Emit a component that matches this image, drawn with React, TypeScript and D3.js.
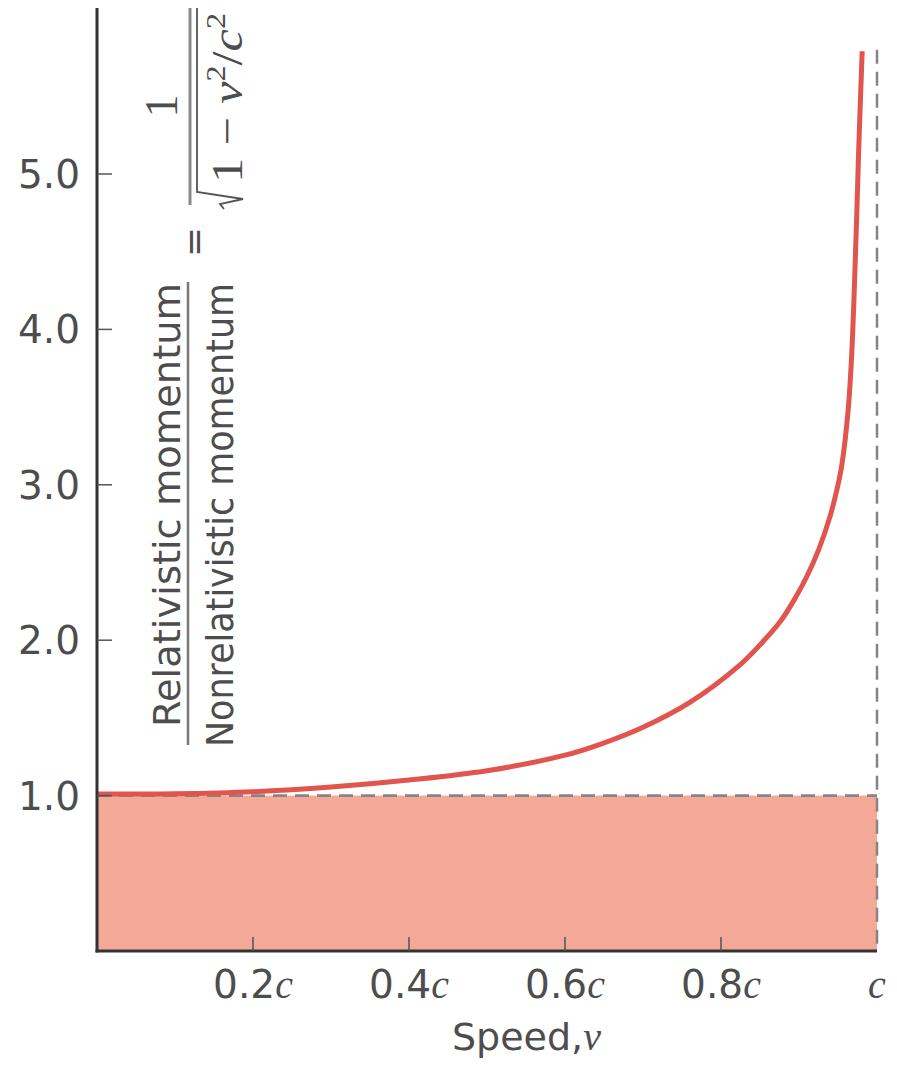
import React from "react";
import * as d3 from "d3";

const speeds = [0, 0.1, 0.2, 0.3, 0.4, 0.5, 0.6, 0.645, 0.7, 0.76, 0.824, 0.85, 0.876, 0.895, 0.91, 0.925, 0.94, 0.95, 0.955, 0.963, 0.967, 0.9705, 0.9735, 0.9765, 0.981];
const ratios = [1.01, 1.012, 1.025, 1.055, 1.1, 1.16, 1.26, 1.33, 1.44, 1.6, 1.84, 1.97, 2.12, 2.27, 2.41, 2.58, 2.8, 3.0, 3.13, 3.48, 3.78, 4.2, 4.65, 5.15, 5.79];
const yTicks = [1, 2, 3, 4, 5];
const yTickLabels = ["1.0", "2.0", "3.0", "4.0", "5.0"];
const xTicks = [0.2, 0.4, 0.6, 0.8, 1.0];
const xTickLabels = ["0.2", "0.4", "0.6", "0.8", ""];
const baseline = 1;

const SANS = "'DejaVu Sans', sans-serif";
const SERIF = "'Liberation Serif', 'DejaVu Serif', serif";
const TEXT = "#4d4d4d";

export default function App() {
  const x = d3.scaleLinear().domain([0, 1]).range([97, 877]);
  const y = d3.scaleLinear().domain([0, 5]).range([951, 951 - 5 * 155.4]);
  const pts = speeds.map((s, i) => [s, ratios[i]] as [number, number]);
  const line = d3
    .line<[number, number]>()
    .x((d) => x(d[0]))
    .y((d) => y(d[1]))
    .curve(d3.curveCatmullRom.alpha(0.5));

  return (
    <svg
      width={897}
      height={1065}
      style={{ position: "absolute", left: 0, top: 0, background: "#fff" }}
    >
      {/* filled region below 1.0 */}
      <rect
        x={x(0)}
        y={y(baseline)}
        width={x(1) - x(0)}
        height={y(0) - y(baseline)}
        fill="#f4a897"
      />
      {/* dashed reference lines */}
      <line
        x1={x(0)}
        x2={x(1)}
        y1={y(baseline)}
        y2={y(baseline)}
        stroke="#858585"
        strokeWidth={2.8}
        strokeDasharray="14 8"
      />
      <line
        x1={x(1)}
        x2={x(1)}
        y1={y(5.8)}
        y2={y(0)}
        stroke="#858585"
        strokeWidth={2.5}
        strokeDasharray="14 8"
      />
      {/* curve */}
      <path d={line(pts) || ""} fill="none" stroke="#e2544e" strokeWidth={5} />

      {/* axes */}
      <line x1={x(0)} x2={x(0)} y1={8} y2={y(0) + 1.5} stroke="#333" strokeWidth={3} />
      <line x1={x(0) - 1.5} x2={x(1)} y1={y(0)} y2={y(0)} stroke="#333" strokeWidth={3} />

      {yTicks.map((t, i) => (
        <g key={"y" + t}>
          <line x1={x(0)} x2={x(0) + 15} y1={y(t)} y2={y(t)} stroke="#555" strokeWidth={1.5} />
          <text
            x={80}
            y={y(t) + 14}
            textAnchor="end"
            fontFamily={SANS}
            fontSize={39}
            fill={TEXT}
          >
            {yTickLabels[i]}
          </text>
        </g>
      ))}

      {xTicks.map((t, i) => (
        <g key={"x" + t}>
          {t < 1 && (
            <line x1={x(t)} x2={x(t)} y1={y(0)} y2={y(0) - 14} stroke="#555" strokeWidth={1.5} />
          )}
          <text x={x(t)} y={998} textAnchor="middle" fill={TEXT} fontSize={39}>
            <tspan fontFamily={SANS}>{xTickLabels[i]}</tspan>
            <tspan fontFamily={SERIF} fontStyle="italic" fontSize={40}>c</tspan>
          </text>
        </g>
      ))}

      {/* x-axis title */}
      <text x={452} y={1050} fill={TEXT} fontSize={38}>
        <tspan fontFamily={SANS}>Speed,</tspan>
        <tspan fontFamily={SERIF} fontStyle="italic" fontSize={40}>v</tspan>
      </text>

      {/* y-axis title, rotated */}
      <g transform="rotate(-90)" fill={TEXT}>
        <text
          x={-505}
          y={180}
          textAnchor="middle"
          fontFamily={SANS}
          fontSize={38}
          textLength={444}
          lengthAdjust="spacingAndGlyphs"
        >
          Relativistic momentum
        </text>
        <line x1={-745} x2={-282} y1={188} y2={188} stroke="#777" strokeWidth={2.5} />
        <text
          x={-515}
          y={233}
          textAnchor="middle"
          fontFamily={SANS}
          fontSize={38}
          textLength={464}
          lengthAdjust="spacingAndGlyphs"
        >
          Nonrelativistic momentum
        </text>
        <text x={-242} y={206} textAnchor="middle" fontFamily={SANS} fontSize={36}>
          =
        </text>
        {/* right-hand fraction */}
        <text x={-106} y={177} textAnchor="middle" fontFamily={SERIF} fontSize={46}>
          1
        </text>
        <line x1={-205} x2={-8} y1={190} y2={190} stroke="#888" strokeWidth={3} />
        <path
          d="M-209,224 L-204,220 L-199,243 L-192,197 L-8,197"
          fill="none"
          stroke="#555"
          strokeWidth={1.8}
        />
        <text x={-183} y={242} fontFamily={SERIF} fontSize={44} textLength={170} lengthAdjust="spacingAndGlyphs">
          <tspan>1 − </tspan>
          <tspan fontStyle="italic">v</tspan>
          <tspan fontSize={28} dy={-17}>2</tspan>
          <tspan dy={17}>/</tspan>
          <tspan fontStyle="italic">c</tspan>
          <tspan fontSize={28} dy={-17}>2</tspan>
        </text>
      </g>
    </svg>
  );
}
